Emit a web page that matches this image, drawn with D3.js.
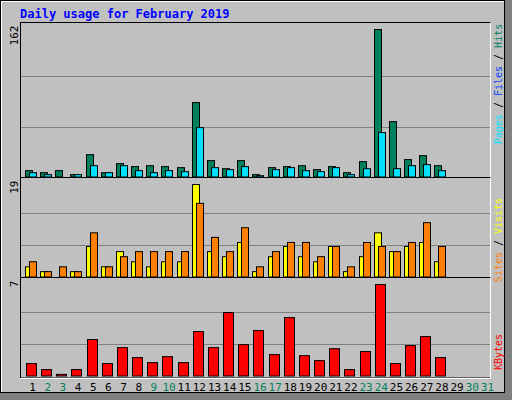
<!DOCTYPE html><html><head><meta charset="utf-8">
<script src="https://cdn.jsdelivr.net/npm/d3@7"></script>
<style>body{margin:0;background:#fff}</style></head><body><svg id="c" width="512" height="400"></svg>
<script>
const days = d3.range(1,32);
const weekend = [2,3,9,10,16,17,23,24,30,31];
const hits  = [6.8,4.6,6.8,2.5,23.9,4.6,14.3,11.1,12.1,11.1,10,79.6,17.5,8.9,17.5,2.5,10,11.1,12.1,7.9,11.1,4.6,16.4,157.7,59.2,18.6,22.8,12.1];
const files = [4.6,2.5,0,2.5,12.1,4.6,12.1,6.8,4.6,6.8,5.7,52.8,10,7.9,11.1,1.4,7.9,10,6.8,5.7,10,2.5,8.9,47.5,8.9,12.1,13.2,6.8];
const sites = [2,1.05,0,1.05,6,2,5,3,2,3,3,18.2,5,4,6.8,1.05,4,6,4,3,6,1.05,4,8.7,5,6,6.8,3];
const visits= [3,1.05,2,1.05,8.7,2,4,5,5,5,5,14.5,7.8,5,9.7,2,5,6.8,6.8,4,6,2,6.8,6,5,6.8,10.7,6];
const kbytes= [0.91,0.47,0.12,0.47,2.67,0.91,2.08,1.35,0.98,1.42,0.98,3.26,2.08,4.65,2.3,3.33,1.57,4.28,1.49,1.13,2.0,0.47,1.79,6.7,0.91,2.23,2.89,1.35];
const maxTicks = ["162","19","7"];
const svg = d3.select("#c");
const F = "DejaVu Sans Mono, monospace";
svg.append("rect").attr("x",0).attr("y",0).attr("width",512).attr("height",400).attr("fill","#c0c0c0");
svg.append("rect").attr("x",505).attr("y",0).attr("width",7).attr("height",400).attr("fill","#808080");
svg.append("rect").attr("x",0).attr("y",393).attr("width",512).attr("height",7).attr("fill","#808080");
svg.append("rect").attr("x",0.5).attr("y",0.5).attr("width",504).attr("height",392).attr("fill","none").attr("stroke","#000");
svg.append("line").attr("x1",1.5).attr("x2",1.5).attr("y1",1).attr("y2",392).attr("stroke","#fff");
svg.append("line").attr("x1",1).attr("x2",504).attr("y1",1.5).attr("y2",1.5).attr("stroke","#fff");
svg.append("text").attr("x",20).attr("y",18).attr("font-family",F).attr("font-weight","bold").attr("font-size",12).attr("fill","#0000ff").text("Daily usage for February 2019");
const x = d3.scaleBand().domain(days).range([20,490]);
const panels = [{y0:25.5,y1:177,max:162},{y0:180.5,y1:277,max:19},{y0:280.5,y1:376,max:7}];
panels.forEach((p,i)=>{
  svg.append("rect").attr("x",20.5).attr("y",p.y0-3).attr("width",470).attr("height",p.y1-p.y0+3+2).attr("fill","#c0c0c0").attr("stroke","#000");
  svg.append("line").attr("x1",490.5).attr("x2",490.5).attr("y1",p.y0-3).attr("y2",p.y1+2).attr("stroke","#fff");
  svg.append("line").attr("x1",20).attr("x2",491).attr("y1",p.y1+2.5).attr("y2",p.y1+2.5).attr("stroke","#fff");
  p.scale = d3.scaleLinear().domain([0,p.max]).range([p.y1,p.y0]);
  [1,2].forEach(k=>svg.append("line").attr("x1",21).attr("x2",490).attr("y1",Math.round(p.scale(p.max*k/3))+0.5).attr("y2",Math.round(p.scale(p.max*k/3))+0.5).attr("stroke","#808080"));
  svg.append("text").attr("transform",`translate(18,${p.y0}) rotate(-90)`).attr("text-anchor","end").attr("font-family",F).attr("font-size",11).text(maxTicks[i]);
});
function bars(data,pi,off,w,fill){
  const s=panels[pi].scale;
  svg.append("g").selectAll("rect").data(data).join("rect")
   .attr("x",(d,i)=>Math.round(x(i+1))+off+0.5).attr("width",w)
   .attr("y",d=>s(d)).attr("height",d=>Math.max(0,panels[pi].y1-s(d)))
   .attr("fill",fill).attr("stroke","#000").attr("stroke-width",1);
}
bars(hits,0,5,7,"#00805c");bars(files,0,9,7,"#00e0ff");
bars(sites,1,5,7,"#ffff00");bars(visits,1,9,7,"#ff8000");
bars(kbytes,2,6,10,"#ff0000");
svg.append("g").selectAll("text").data(days).join("text")
 .attr("x",d=>x(d)+x.bandwidth()/2+5).attr("y",391).attr("text-anchor","middle")
 .attr("font-family",F).attr("font-size",11).attr("fill",d=>weekend.includes(d)?"#00805c":"#000").text(d=>d);
function rlabel(yc,parts){
  const t=svg.append("text").attr("transform",`translate(502,${yc}) rotate(-90)`).attr("text-anchor","middle").attr("font-family",F).attr("font-size",10);
  parts.forEach(([s,c])=>t.append("tspan").attr("fill",c).text(s));
}
rlabel(84,[["Pages","#00e0ff"],[" / ","#000"],["Files","#0040ff"],[" / ","#000"],["Hits","#00805c"]]);
rlabel(240,[["Sites","#ff8000"],[" / ","#000"],["Visits","#ffff00"]]);
rlabel(352,[["KBytes","#ff0000"]]);
</script></body></html>
